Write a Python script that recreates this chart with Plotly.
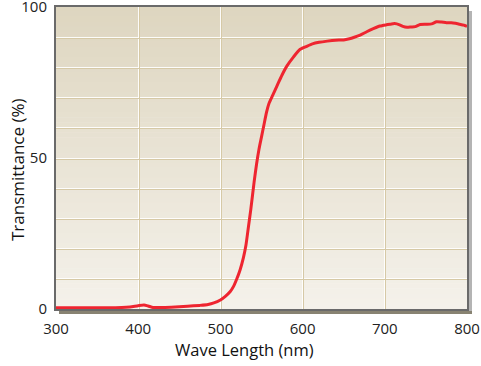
import plotly.graph_objects as go

# ---- data ----
wavelength = [300, 320, 340, 360, 380, 390, 400, 407, 412, 418, 425, 440, 460, 475, 485, 492,
              500, 506, 512, 516, 520, 524, 528, 531, 534, 537, 541, 544, 547, 550, 553, 556,
              559, 564, 569, 575, 581, 589, 597, 605, 612, 620, 630, 640, 650, 657, 662, 670,
              678, 686, 694, 702, 707, 712, 718, 722, 727, 732, 737, 743, 750, 757, 763, 769,
              775, 781, 786, 791, 796, 800]
transmittance = [0.4, 0.4, 0.4, 0.4, 0.5, 0.7, 1.1, 1.3, 1.0, 0.5, 0.5, 0.6, 0.9, 1.2, 1.5, 2.0,
                 3.0, 4.2, 5.8, 7.5, 10, 13, 17, 21, 27, 33, 42, 48, 53, 57, 61, 65,
                 68, 71, 74, 77.5, 80.5, 83.5, 86, 87, 87.8, 88.3, 88.7, 89.0, 89.1, 89.5, 89.9, 90.7,
                 91.8, 92.8, 93.7, 94.1, 94.3, 94.5, 94.1, 93.6, 93.3, 93.4, 93.5, 94.2, 94.3, 94.4, 95.1, 95.0,
                 94.8, 94.8, 94.6, 94.3, 94.0, 93.6]
x_ticks = [300, 400, 500, 600, 700, 800]
x_tick_labels = ["300", "400", "500", "600", "700", "800"]
y_ticks = [0, 10, 20, 30, 40, 50, 60, 70, 80, 90, 100]
y_tick_labels = ["0", "", "", "", "", "50", "", "", "", "", "100"]

# ---- layout geometry (pixels) ----
W, H = 481, 366
L, R, T, B = 56, 467, 7, 309
pw, ph = R - L, B - T

def px(xp):
    return (xp - L) / pw

def py(yp):
    return (B - yp) / ph

FONT = "Open Sans"
shapes = []

# gradient background
top = (222, 214, 192)
bot = (244, 241, 234)
N = 60
for i in range(N):
    f = i / (N - 1)
    c = tuple(round(top[k] + (bot[k] - top[k]) * f) for k in range(3))
    shapes.append(dict(type="rect", xref="x domain", yref="y domain",
                       x0=0, x1=1, y0=1 - (i + 1) / N, y1=1 - i / N + 0.002,
                       fillcolor="rgb(%d,%d,%d)" % c, line=dict(width=0), layer="below"))

# drop shadow
shapes.append(dict(type="rect", xref="paper", yref="paper",
                   x0=px(R + 2), x1=px(R + 5), y0=py(B + 5), y1=py(T + 4),
                   fillcolor="#b4b4b4", line=dict(width=0), layer="above"))
shapes.append(dict(type="rect", xref="paper", yref="paper",
                   x0=px(L + 3), x1=px(R + 5), y0=py(B + 5), y1=py(B + 2),
                   fillcolor="#888372", line=dict(width=0), layer="above"))

fig = go.Figure()
fig.add_trace(go.Scatter(x=wavelength, y=transmittance, mode="lines",
                         line=dict(color="#ee2530", width=3, shape="spline", smoothing=0.6),
                         hoverinfo="skip", showlegend=False))
fig.add_trace(go.Scatter(x=[None], y=[None], xaxis="x2", yaxis="y2", showlegend=False))

tan = "#d6c9a6"
fig.update_layout(
    width=W, height=H,
    margin=dict(l=L, r=W - R, t=T, b=H - B, pad=0, autoexpand=False),
    paper_bgcolor="white",
    plot_bgcolor="rgba(0,0,0,0)",
    shapes=shapes,
    hovermode=False,
    font=dict(family=FONT, size=15, color="#222222"),
    xaxis=dict(range=[300, 800], tickvals=x_ticks, ticktext=x_tick_labels,
               showgrid=True, gridcolor="rgba(255,255,255,0.9)", gridwidth=1.3,
               showline=True, mirror=True, linecolor="#6a6a6a", linewidth=2,
               ticks="", zeroline=False, ticklabelstandoff=5, automargin=False,
               ticklabeloverflow="allow",
               tickfont=dict(family=FONT, size=15, color="#222222")),
    yaxis=dict(range=[0, 100], tickvals=y_ticks, ticktext=y_tick_labels,
               showgrid=True, gridcolor="rgba(255,255,255,0.9)", gridwidth=1.3,
               showline=True, mirror=True, linecolor="#6a6a6a", linewidth=2,
               ticks="", zeroline=False, ticklabelstandoff=4, automargin=False,
               ticklabeloverflow="allow",
               tickfont=dict(family=FONT, size=15, color="#222222")),
    xaxis2=dict(range=[298.8, 798.8], overlaying="x", tickvals=x_ticks, showticklabels=False,
                showgrid=True, gridcolor=tan, gridwidth=1, zeroline=False, showline=False,
                automargin=False),
    yaxis2=dict(range=[0.33, 100.33], overlaying="y", tickvals=y_ticks, showticklabels=False,
                showgrid=True, gridcolor=tan, gridwidth=1, zeroline=False, showline=False,
                automargin=False),
    annotations=[
        dict(text="Wave Length (nm)", xref="paper", yref="paper", x=px(244), y=py(349),
             xanchor="center", yanchor="middle", showarrow=False,
             font=dict(family=FONT, size=16.5, color="#111111")),
        dict(text="Transmittance (%)", xref="paper", yref="paper", x=px(17), y=py(170),
             xanchor="center", yanchor="middle", showarrow=False, textangle=-90,
             font=dict(family=FONT, size=17, color="#111111")),
    ],
)

fig.write_html("out.html", config={"displayModeBar": False},
               post_script="document.body.style.margin='0';document.body.style.padding='0';"
                           "document.body.style.overflow='hidden';")
